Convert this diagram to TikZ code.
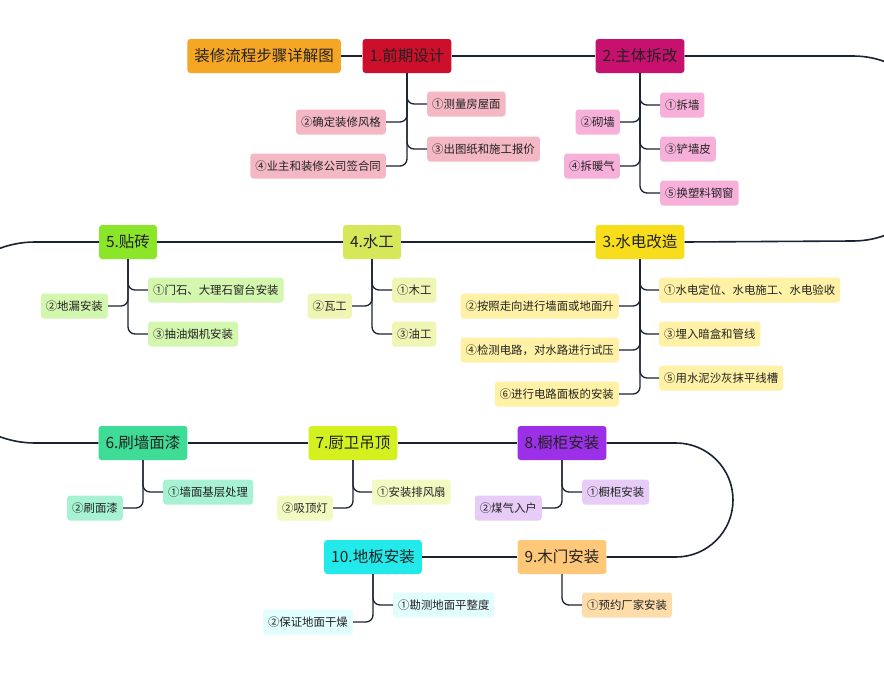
\documentclass[tikz,border=0pt]{standalone}
\usepackage{fontspec}
\setmainfont{Noto Sans CJK SC}
\definecolor{ln}{HTML}{1B2233}
\definecolor{txt}{HTML}{222222}
\definecolor{cT}{HTML}{F5A623}
\definecolor{c1}{HTML}{CC0F2A}
\definecolor{c2}{HTML}{C8106E}
\definecolor{c3}{HTML}{F8DD1C}
\definecolor{c4}{HTML}{D6E85A}
\definecolor{c5}{HTML}{8BE62A}
\definecolor{c6}{HTML}{3EDC96}
\definecolor{c7}{HTML}{D4F01E}
\definecolor{c8}{HTML}{9B30E8}
\definecolor{c9}{HTML}{FFC879}
\definecolor{c10}{HTML}{22EAEA}
\definecolor{s1}{HTML}{F4B8C4}
\definecolor{s2}{HTML}{F7B0DA}
\definecolor{s3}{HTML}{FFF2A6}
\definecolor{s4}{HTML}{EFF6B4}
\definecolor{s5}{HTML}{D4F7B0}
\definecolor{s6}{HTML}{A6F2D2}
\definecolor{s7}{HTML}{F2FAC2}
\definecolor{s8}{HTML}{E6CCF7}
\definecolor{s9}{HTML}{FFDDAA}
\definecolor{s10}{HTML}{E2FDFD}
\begin{document}
\begin{tikzpicture}[x=1pt,y=-1pt,
  mainbox/.style={rounded corners=3pt, minimum height=34pt, inner xsep=7pt, font=\fontsize{15.5}{18}\selectfont, text=txt},
  subbox/.style={rounded corners=3pt, minimum height=25pt, inner xsep=5pt, font=\fontsize{11.4}{13}\selectfont, text=txt},
  mainline/.style={draw=ln, line width=1.6pt},
  branch/.style={draw=ln, line width=1.3pt, rounded corners=7pt}]
\clip (0,0) rectangle (884,675);
\fill[white] (0,0) rectangle (884,675);
% main nodes
\node[mainbox, fill=cT] (T) at (264,56) {装修流程步骤详解图};
\node[mainbox, fill=c1] (n1) at (407,56) {1.前期设计};
\node[mainbox, fill=c2] (n2) at (640,56) {2.主体拆改};
\node[mainbox, fill=c3] (n3) at (640,242) {3.水电改造};
\node[mainbox, fill=c4] (n4) at (372,242) {4.水工};
\node[mainbox, fill=c5] (n5) at (128,242) {5.贴砖};
\node[mainbox, fill=c6] (n6) at (143,443) {6.刷墙面漆};
\node[mainbox, fill=c7] (n7) at (353,443) {7.厨卫吊顶};
\node[mainbox, fill=c8] (n8) at (562,443) {8.橱柜安装};
\node[mainbox, fill=c9] (n9) at (562,557) {9.木门安装};
\node[mainbox, fill=c10] (n10) at (373,557) {10.地板安装};
% main line
\coordinate (r1a) at (853,56);
\coordinate (l1a) at (35,242);
\coordinate (r2a) at (676,443);
\draw[mainline] (T.east) -- (n1.west);
\draw[mainline] (n1.east) -- (n2.west);
\draw[mainline] (n2.east) -- (r1a) arc[start angle=-90, end angle=90, radius=92.5] -- (n3.east);
\draw[mainline] (n3.west) -- (n4.east);
\draw[mainline] (n4.west) -- (n5.east);
\draw[mainline] (n5.west) -- (l1a) arc[start angle=-90, end angle=-270, radius=100.5] -- (n6.west);
\draw[mainline] (n6.east) -- (n7.west);
\draw[mainline] (n7.east) -- (n8.west);
\draw[mainline] (n8.east) -- (r2a) arc[start angle=-90, end angle=90, radius=57] -- (n9.east);
\draw[mainline] (n9.west) -- (n10.east);
% 1 subs
\node[subbox, fill=s1, anchor=west] (a1) at (427,104) {①测量房屋面};
\node[subbox, fill=s1, anchor=east] (a2) at (386,122) {②确定装修风格};
\node[subbox, fill=s1, anchor=west] (a3) at (427,149) {③出图纸和施工报价};
\node[subbox, fill=s1, anchor=east] (a4) at (386,166) {④业主和装修公司签合同};
\draw[branch] (n1.south) |- (a1.west);
\draw[branch] (n1.south) |- (a2.east);
\draw[branch] (n1.south) |- (a3.west);
\draw[branch] (n1.south) |- (a4.east);
% 2 subs
\node[subbox, fill=s2, anchor=west] (b1) at (660,105) {①拆墙};
\node[subbox, fill=s2, anchor=east] (b2) at (620,122) {②砌墙};
\node[subbox, fill=s2, anchor=west] (b3) at (660,149) {③铲墙皮};
\node[subbox, fill=s2, anchor=east] (b4) at (620,166) {④拆暖气};
\node[subbox, fill=s2, anchor=west] (b5) at (660,193) {⑤换塑料钢窗};
\draw[branch] (n2.south) |- (b1.west);
\draw[branch] (n2.south) |- (b2.east);
\draw[branch] (n2.south) |- (b3.west);
\draw[branch] (n2.south) |- (b4.east);
\draw[branch] (n2.south) |- (b5.west);
% 3 subs
\node[subbox, fill=s3, anchor=west] (c1n) at (659,290) {①水电定位、水电施工、水电验收};
\node[subbox, fill=s3, anchor=east] (c2n) at (619,306) {②按照走向进行墙面或地面升};
\node[subbox, fill=s3, anchor=west] (c3n) at (659,334) {③埋入暗盒和管线};
\node[subbox, fill=s3, anchor=east] (c4n) at (619,350) {④检测电路，对水路进行试压};
\node[subbox, fill=s3, anchor=west] (c5n) at (659,378) {⑤用水泥沙灰抹平线槽};
\node[subbox, fill=s3, anchor=east] (c6n) at (619,394) {⑥进行电路面板的安装};
\draw[branch] (n3.south) |- (c1n.west);
\draw[branch] (n3.south) |- (c2n.east);
\draw[branch] (n3.south) |- (c3n.west);
\draw[branch] (n3.south) |- (c4n.east);
\draw[branch] (n3.south) |- (c5n.west);
\draw[branch] (n3.south) |- (c6n.east);
% 4 subs
\node[subbox, fill=s4, anchor=west] (d1) at (392,290) {①木工};
\node[subbox, fill=s4, anchor=east] (d2) at (352,306) {②瓦工};
\node[subbox, fill=s4, anchor=west] (d3) at (392,334) {③油工};
\draw[branch] (n4.south) |- (d1.west);
\draw[branch] (n4.south) |- (d2.east);
\draw[branch] (n4.south) |- (d3.west);
% 5 subs
\node[subbox, fill=s5, anchor=west] (e1) at (148,290) {①门石、大理石窗台安装};
\node[subbox, fill=s5, anchor=east] (e2) at (108,306) {②地漏安装};
\node[subbox, fill=s5, anchor=west] (e3) at (148,334) {③抽油烟机安装};
\draw[branch] (n5.south) |- (e1.west);
\draw[branch] (n5.south) |- (e2.east);
\draw[branch] (n5.south) |- (e3.west);
% 6 subs
\node[subbox, fill=s6, anchor=west] (f1) at (163,492) {①墙面基层处理};
\node[subbox, fill=s6, anchor=east] (f2) at (123,508) {②刷面漆};
\draw[branch] (n6.south) |- (f1.west);
\draw[branch] (n6.south) |- (f2.east);
% 7 subs
\node[subbox, fill=s7, anchor=west] (g1) at (372,492) {①安装排风扇};
\node[subbox, fill=s7, anchor=east] (g2) at (333,508) {②吸顶灯};
\draw[branch] (n7.south) |- (g1.west);
\draw[branch] (n7.south) |- (g2.east);
% 8 subs
\node[subbox, fill=s8, anchor=west] (h1) at (582,492) {①橱柜安装};
\node[subbox, fill=s8, anchor=east] (h2) at (542,508) {②煤气入户};
\draw[branch] (n8.south) |- (h1.west);
\draw[branch] (n8.south) |- (h2.east);
% 9 sub
\node[subbox, fill=s9, anchor=west] (i1) at (582,605) {①预约厂家安装};
\draw[branch] (n9.south) |- (i1.west);
% 10 subs
\node[subbox, fill=s10, anchor=west] (j1) at (393,605) {①勘测地面平整度};
\node[subbox, fill=s10, anchor=east] (j2) at (353,622) {②保证地面干燥};
\draw[branch] (n10.south) |- (j1.west);
\draw[branch] (n10.south) |- (j2.east);
\end{tikzpicture}
\end{document}
